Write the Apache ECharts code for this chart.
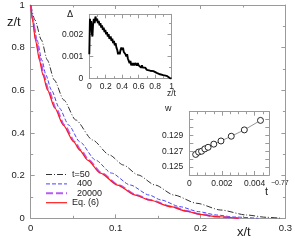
<!DOCTYPE html>
<html><head><meta charset="utf-8">
<script src="https://cdn.jsdelivr.net/npm/echarts@6/dist/echarts.min.js"></script>
<style>html,body{margin:0;padding:0;background:#fff}#c{width:295px;height:248px}</style>
</head><body><div id="c"></div>
<script>
// ---- data ----
const seriesNames = ['t=50', '400', '20000', 'Eq. (6)'];
const curveT50 = [[0,1],[0.0050,0.930],[0.0126,0.836],[0.0196,0.742],[0.0278,0.648],[0.0389,0.555],[0.0530,0.461],[0.0729,0.367],[0.0927,0.297],[0.1091,0.250],[0.1266,0.203],[0.1465,0.156],[0.1688,0.109],[0.1957,0.0703],[0.2237,0.0389],[0.2541,0.0155],[0.2775,0.0047],[0.296,0]];
const curveT400 = [[0,1],[0.0027,0.930],[0.0074,0.836],[0.0132,0.742],[0.0179,0.672],[0.0243,0.602],[0.0337,0.517],[0.0448,0.437],[0.0577,0.359],[0.0764,0.273],[0.0951,0.212],[0.1173,0.156],[0.1395,0.109],[0.1536,0.0858],[0.1758,0.0544],[0.1980,0.0309],[0.2191,0.0155],[0.2390,0.0061],[0.2682,0]];
const curveT20000 = [[0,1],[0.0027,0.930],[0.0064,0.836],[0.0113,0.742],[0.0154,0.672],[0.0208,0.602],[0.0296,0.517],[0.0396,0.437],[0.0518,0.359],[0.0589,0.320],[0.0682,0.273],[0.0834,0.212],[0.1033,0.156],[0.1244,0.109],[0.1407,0.0858],[0.1665,0.0544],[0.1840,0.0342],[0.2004,0.0188],[0.2177,0.0084],[0.2455,0]];
const curveEq6 = [[0,1],[0.0021,0.930],[0.0056,0.836],[0.0103,0.742],[0.0144,0.672],[0.0197,0.602],[0.0284,0.517],[0.0384,0.437],[0.0506,0.359],[0.0577,0.320],[0.0670,0.273],[0.0822,0.212],[0.1021,0.156],[0.1232,0.109],[0.1395,0.0858],[0.1653,0.0544],[0.1828,0.0342],[0.1992,0.0188],[0.2167,0.0084],[0.2448,0]];
const deltaCurve = [[0,0.0011],[0.008,0.0027],[0.015,0.0023],[0.022,0.0026],[0.03,0.0021],[0.038,0.0019],[0.045,0.0024],[0.055,0.0027],[0.065,0.0025],[0.075,0.0028],[0.085,0.0026],[0.095,0.0027],[0.105,0.0025],[0.115,0.0026],[0.125,0.0024],[0.135,0.0025],[0.145,0.0023],[0.155,0.0024],[0.165,0.0022],[0.175,0.0023],[0.185,0.0021],[0.195,0.0022],[0.205,0.0020],[0.215,0.0021],[0.225,0.0019],[0.235,0.0020],[0.245,0.0018],[0.26,0.0019],[0.27,0.0017],[0.28,0.0018],[0.29,0.0016],[0.30,0.0017],[0.31,0.0015],[0.32,0.0016],[0.33,0.0014],[0.34,0.0013],[0.35,0.0011],[0.36,0.0012],[0.37,0.0011],[0.38,0.0013],[0.39,0.0014],[0.40,0.0013],[0.41,0.0014],[0.42,0.0012],[0.43,0.0012],[0.44,0.0011],[0.45,0.0010],[0.46,0.0011],[0.47,0.0009],[0.48,0.0008],[0.49,0.0007],[0.50,0.0008],[0.51,0.0006],[0.52,0.0007],[0.53,0.0006],[0.54,0.0007],[0.55,0.0006],[0.56,0.0007],[0.57,0.0007],[0.58,0.0006],[0.59,0.0007],[0.60,0.0006],[0.62,0.0006],[0.63,0.0005],[0.64,0.0006],[0.65,0.0005],[0.66,0.00045],[0.68,0.0005],[0.70,0.0004],[0.72,0.00042],[0.74,0.00036],[0.76,0.00033],[0.78,0.00034],[0.80,0.00027],[0.82,0.00026],[0.84,0.00022],[0.86,0.0002],[0.88,0.00018],[0.90,0.00016],[0.92,0.00016],[0.94,0.00013],[0.96,0.0001],[0.98,0.00003],[1.0,0]];
const wX = [0.00039,0.00057,0.00075,0.00095,0.00115,0.00150,0.00194,0.00257,0.00337,0.00436];
const wY = [0.1266,0.1269,0.1270,0.1273,0.1275,0.1279,0.1283,0.1289,0.1297,0.1309];
const mainXTicks = {min:0, max:0.3, interval:0.1};
const mainYTicks = {min:0, max:1, interval:0.2};
const inset1X = {min:0, max:1, interval:0.2};
const inset1Y = {min:0, max:0.0029, interval:0.001};
const inset2X = {min:0, max:0.0049, interval:0.002};
const inset2Y = {min:0.124, max:0.132, interval:0.001};
const inset2YLabels = ['0.125','0.127','0.129'];

const FONT = 'Liberation Sans';
const axisCol = '#9a9a9a';
function mkAxis(grid, cfg, pos, labels, fs, margin){
  return {type:'value', gridIndex:grid, position:pos, min:cfg.min, max:cfg.max, interval:cfg.interval,
    axisLine:{show:true, onZero:false, lineStyle:{color:axisCol, width:1}},
    axisTick:{show:true, inside:true, length:4, lineStyle:{color:axisCol}},
    minorTick:{show:true, splitNumber:2, length:2.5, lineStyle:{color:axisCol}},
    splitLine:{show:false},
    axisLabel:{show:labels, fontSize:fs, color:'#222', fontFamily:FONT, margin:margin}};
}
const xAxes = [
  mkAxis(0, mainXTicks, 'bottom', true, 9.5, 5),
  mkAxis(0, mainXTicks, 'top', false, 9, 4),
  mkAxis(1, inset1X, 'bottom', true, 8.5, 3),
  mkAxis(1, inset1X, 'top', false, 8, 3),
  mkAxis(2, inset2X, 'bottom', true, 8.5, 4),
  mkAxis(2, inset2X, 'top', false, 8, 3)
];
xAxes[4].minorTick.splitNumber = 4;
xAxes[5].minorTick.splitNumber = 4;
xAxes[4].axisLabel.showMaxLabel = false;
const yAxes = [
  mkAxis(0, mainYTicks, 'left', true, 9.5, 6),
  mkAxis(0, mainYTicks, 'right', false, 9, 4),
  mkAxis(1, inset1Y, 'left', true, 8.5, 6),
  mkAxis(1, inset1Y, 'right', false, 8, 4),
  mkAxis(2, inset2Y, 'left', true, 8.5, 6),
  mkAxis(2, inset2Y, 'right', false, 8, 4)
];
yAxes[2].axisLabel.showMaxLabel = false;
yAxes[4].minorTick.show = false; yAxes[5].minorTick.show = false;
yAxes[4].axisLabel.showMaxLabel = false;
yAxes[4].axisLabel.formatter = function(v){ const s = v.toFixed(3); return inset2YLabels.indexOf(s) >= 0 ? s : ''; };
yAxes[2].axisLabel.formatter = function(v){ return v === 0 ? '0' : v.toFixed(3); };

const styles = [
  {color:'#333', type:[6,2,1,2], width:1},
  {color:'#4646ff', type:[4,2], width:1},
  {color:'#b65cf5', type:[7,3], width:2},
  {color:'#ff1a1a', type:'solid', width:1.2}
];
const mainSeries = seriesNames.map((name, i) => ({
  name, type:'line', data:[curveT50, curveT400, curveT20000, curveEq6][i], xAxisIndex:0, yAxisIndex:0,
  symbol:'none', smooth:0.25, smoothMonotone:'x', z:2+i,
  lineStyle:styles[i], itemStyle:{color:styles[i].color}
}));

const option = {
  animation:false,
  backgroundColor:'#fff',
  textStyle:{fontFamily:FONT},
  grid:[
    {left:30.7, top:5, width:257, height:213.3},
    {left:89.3, top:14.3, width:82.2, height:64.4},
    {left:189.3, top:111.7, width:80, height:63.3}
  ],
  xAxis:xAxes, yAxis:yAxes,
  legend:{show:true, orient:'vertical', left:40, top:165, itemWidth:21, itemHeight:11, itemGap:0.4,
    data:seriesNames.map((n,i)=>({name:n, lineStyle:{color:styles[i].color, type:styles[i].type, width:styles[i].width}})),
    itemStyle:{opacity:0},
    textStyle:{fontSize:9, color:'#222', fontFamily:FONT},
    formatter: n => (n==='400' || n==='20000') ? '  ' + n : n},
  series:[
    ...mainSeries,
    {name:'delta', type:'line', data:deltaCurve, xAxisIndex:2, yAxisIndex:2, symbol:'none',
      lineStyle:{color:'#000', width:1.9}},
    {name:'w', type:'line', data:wX.map((x,i)=>[x,wY[i]]), xAxisIndex:4, yAxisIndex:4,
      symbol:'circle', symbolSize:6, showSymbol:true,
      itemStyle:{color:'#fff', borderColor:'#111', borderWidth:0.9},
      lineStyle:{color:'#777', width:0.8}}
  ],
  graphic:[
    {type:'text', left:7, top:16, style:{text:'z/t', font:'13px "Liberation Sans"', fill:'#222'}},
    {type:'text', left:237, top:226, style:{text:'x/t', font:'13px "Liberation Sans"', fill:'#222'}},
    {type:'text', left:67, top:10, style:{text:'Δ', font:'9px "DejaVu Sans"', fill:'#222'}},
    {type:'text', left:167, top:89, style:{text:'z/t', font:'8.5px "Liberation Sans"', fill:'#222'}},
    {type:'text', left:165, top:104, style:{text:'w', font:'9px "Liberation Sans"', fill:'#222'}},
    {type:'text', left:265, top:186, style:{text:'t', font:'11px "Liberation Sans"', fill:'#222'}},
    {type:'text', left:271, top:180, style:{text:'−0.77', font:'7px "Liberation Sans"', fill:'#222'}}
  ]
};
const chart = echarts.init(document.getElementById('c'), null, {renderer:'canvas'});
chart.setOption(option);
</script></body></html>
